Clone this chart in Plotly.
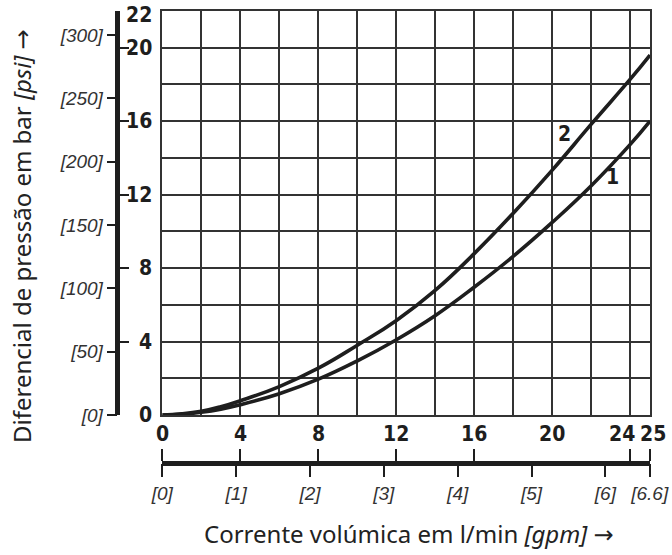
import plotly.graph_objects as go

# ---- data ----
flow_lmin = [0, 1, 2, 3, 4, 6, 8, 10, 12, 14, 16, 18, 20, 22, 24, 25]
curve1_bar = [0, 0.04, 0.15, 0.32, 0.56, 1.16, 1.95, 2.95, 4.1, 5.42, 6.97, 8.65, 10.5, 12.5, 14.75, 16.0]
curve2_bar = [0, 0.06, 0.2, 0.45, 0.78, 1.55, 2.55, 3.8, 5.15, 6.8, 8.8, 11.0, 13.35, 15.85, 18.3, 19.6]
curve_names = ["1", "2"]

bar_label_vals = [0, 4, 8, 12, 16, 20, 22]
bar_tick_vals = [4, 8, 12, 16, 20]
psi_vals = [0, 50, 100, 150, 200, 250, 300]
lmin_label_vals = [0, 4, 8, 12, 16, 20, 24, 25]
lmin_tick_vals = [0, 4, 8, 12, 16, 24, 25]
gpm_vals = [0, 1, 2, 3, 4, 5, 6, 6.6]

BAR_TO_PSI = 14.5038
GPM_TO_LMIN = 3.785411784
X_MAX = 25
Y_MAX = 22

# ---- layout geometry ----
W, H = 672, 555
ML, MR, MT, MB = 60, 22, 11, 40
PW = W - ML - MR
PH = H - MT - MB
plot_left_px = 162.3
plot_bottom_px = 415
xdom0 = (plot_left_px - ML) / PW
ydom0 = (H - MB - plot_bottom_px) / PH
axis_x_px = 116.7
axis_pos = (axis_x_px - ML) / PW
bottom_axis_px = 462.7
bottom_pos = (H - MB - bottom_axis_px) / PH
x_scale = (W - MR - plot_left_px) / X_MAX  # px per l/min
y_scale = (plot_bottom_px - MT) / Y_MAX

def px_to_paper_x(px):
    return (px - ML) / PW

def px_to_paper_y(py):
    return (H - MB - py) / PH

def data_to_paper_x(v):
    return px_to_paper_x(plot_left_px + v * x_scale)

INK = "#1e1e1e"
GRID = "#333333"
BOLD_FONT = "Liberation Sans Narrow, DejaVu Sans Condensed, Arial Narrow, sans-serif"
ITAL_FONT = "Liberation Sans, Arial, sans-serif"
TITLE_FONT = "Noto Sans, Open Sans, sans-serif"
ARROW = '<span style="font-family:DejaVu Sans">→</span>'

fig = go.Figure()
for ys in (curve1_bar, curve2_bar):
    fig.add_trace(go.Scatter(x=flow_lmin, y=ys, mode="lines",
                             line=dict(color=INK, width=3.6, shape="spline", smoothing=1.3),
                             showlegend=False, hoverinfo="skip"))

fig.update_layout(
    template="none",
    width=W, height=H, autosize=False,
    margin=dict(l=ML, r=MR, t=MT, b=MB, pad=0),
    paper_bgcolor="white", plot_bgcolor="white",
    showlegend=False,
    xaxis=dict(domain=[xdom0, 1], range=[0, X_MAX], dtick=2, tick0=0, automargin=False,
               showgrid=True, gridcolor=GRID, gridwidth=1.5,
               showticklabels=False, ticks="", zeroline=False,
               showline=True, mirror=True, linecolor=GRID, linewidth=1.5),
    yaxis=dict(domain=[ydom0, 1], range=[0, Y_MAX], dtick=2, tick0=0, automargin=False,
               showgrid=True, gridcolor=GRID, gridwidth=1.5,
               showticklabels=False, ticks="", zeroline=False,
               showline=True, mirror=True, linecolor=GRID, linewidth=1.5),
    # bar ticks on right side of the thick left axis
    yaxis2=dict(overlaying="y", anchor="free", position=axis_pos, side="right", automargin=False,
                range=[0, Y_MAX], tickvals=bar_tick_vals, showticklabels=False,
                ticks="outside", ticklen=10, tickwidth=2, tickcolor=INK,
                showgrid=False, zeroline=False,
                showline=True, linecolor=INK, linewidth=4.5),
    # psi ticks on the left side
    yaxis3=dict(overlaying="y", anchor="free", position=axis_pos, side="left", automargin=False,
                range=[0, Y_MAX * BAR_TO_PSI], tickvals=psi_vals,
                ticktext=[f"[{v}]" for v in psi_vals],
                ticks="outside", ticklen=10, tickwidth=1.5, tickcolor=INK,
                tickfont=dict(family=ITAL_FONT, size=19, color="#333", style="italic"),
                showgrid=False, zeroline=False, showline=False),
    # l/min ticks on top of the bottom thick axis
    xaxis2=dict(overlaying="x", anchor="free", position=bottom_pos, side="top", automargin=False,
                range=[0, X_MAX], tickvals=lmin_tick_vals, showticklabels=False,
                ticks="outside", ticklen=12, tickwidth=2, tickcolor=INK,
                showgrid=False, zeroline=False,
                showline=True, linecolor=INK, linewidth=4.5),
    # gpm ticks below
    xaxis3=dict(overlaying="x", anchor="free", position=bottom_pos, side="bottom", automargin=False,
                range=[0, X_MAX / GPM_TO_LMIN], tickvals=gpm_vals,
                ticktext=[f"[{v:g}]" for v in gpm_vals],
                ticks="outside", ticklen=13, tickwidth=1.5, tickcolor=INK,
                tickfont=dict(family=ITAL_FONT, size=19, color="#333", style="italic"),
                showgrid=False, zeroline=False, showline=False),
)

# dummy traces so the extra axes are drawn
fig.add_trace(go.Scatter(x=[None], y=[None], yaxis="y2", showlegend=False))
fig.add_trace(go.Scatter(x=[None], y=[None], yaxis="y3", showlegend=False))
fig.add_trace(go.Scatter(x=[None], y=[None], xaxis="x2", showlegend=False))
fig.add_trace(go.Scatter(x=[None], y=[None], xaxis="x3", showlegend=False))

bold = dict(family=BOLD_FONT, size=21, color=INK, weight="bold")

# bar labels (right-aligned between the thick axis and the plot)
for v in bar_label_vals:
    if v == Y_MAX:
        fig.add_annotation(x=px_to_paper_x(154), xref="paper", y=px_to_paper_y(0.5), yref="paper",
                           text=str(v), showarrow=False, xanchor="right", yanchor="top",
                           font=bold)
    else:
        fig.add_annotation(x=px_to_paper_x(154), xref="paper", y=v, yref="y",
                           text=str(v), showarrow=False, xanchor="right", yanchor="middle",
                           font=bold)

# l/min labels under the plot
label_shift = {24: -0.45, 25: 0.15}
for v in lmin_label_vals:
    fig.add_annotation(x=data_to_paper_x(v + label_shift.get(v, 0)), xref="paper",
                       y=px_to_paper_y(434), yref="paper",
                       text=str(v), showarrow=False, xanchor="center", yanchor="middle",
                       font=bold)

# curve labels
fig.add_annotation(x=23.1, y=12.95, xref="x", yref="y", text=curve_names[0],
                   showarrow=False, font=dict(family=BOLD_FONT, size=21, color=INK, weight="bold"))
fig.add_annotation(x=20.6, y=15.3, xref="x", yref="y", text=curve_names[1],
                   showarrow=False, font=dict(family=BOLD_FONT, size=21, color=INK, weight="bold"))

# axis titles
fig.add_annotation(x=px_to_paper_x(22), xref="paper", y=px_to_paper_y(236), yref="paper",
                   text="Diferencial de pressão em bar <i>[psi]</i> " + ARROW, textangle=-90,
                   showarrow=False, xanchor="center", yanchor="middle",
                   font=dict(family=TITLE_FONT, size=24, color="#222"))
fig.add_annotation(x=px_to_paper_x(409), xref="paper", y=px_to_paper_y(533), yref="paper",
                   text="Corrente volúmica em l/min <i>[gpm]</i> " + ARROW,
                   showarrow=False, xanchor="center", yanchor="middle",
                   font=dict(family=TITLE_FONT, size=24, color="#222"))

fig.write_html("out.html", config={"displayModeBar": False},
               post_script="document.body.style.margin='0';document.body.style.padding='0';")
